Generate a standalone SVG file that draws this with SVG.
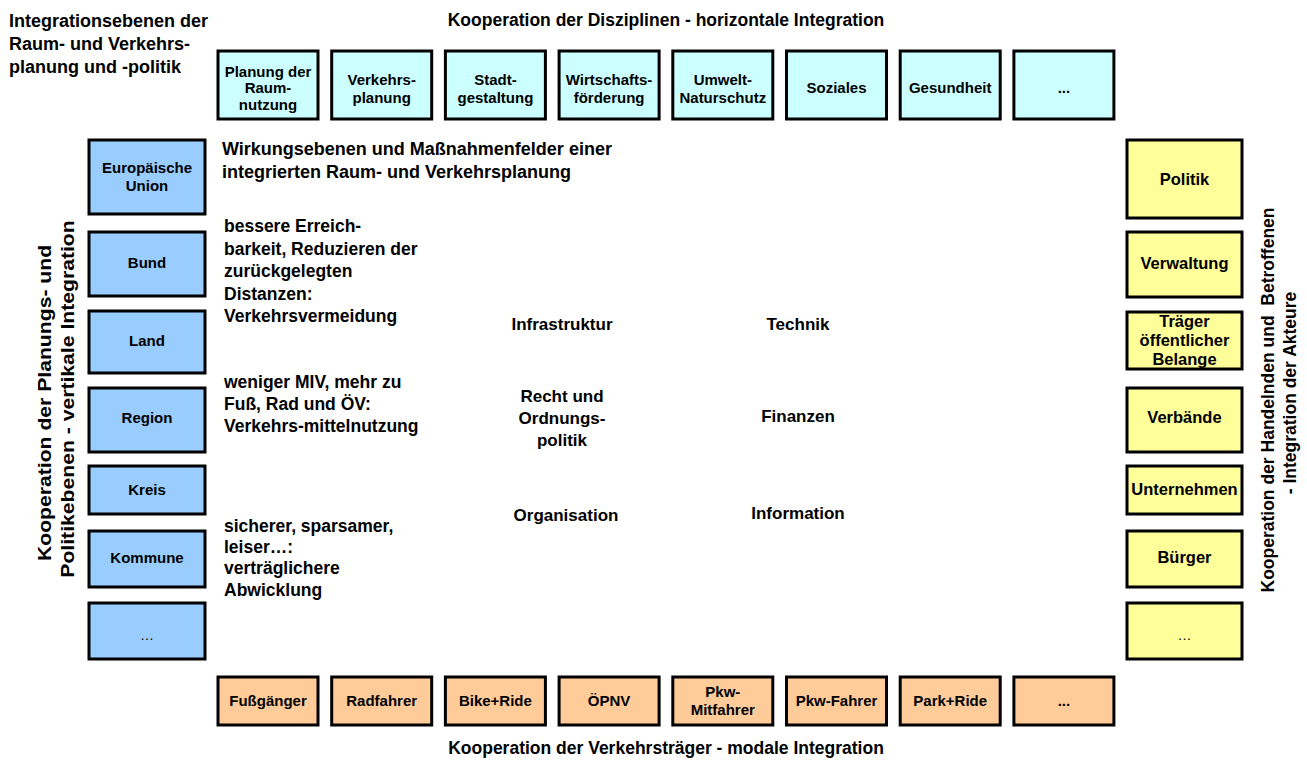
<svg xmlns="http://www.w3.org/2000/svg" width="1307" height="765" viewBox="0 0 1307 765">
<style>
text{font-family:"Liberation Sans",Arial,sans-serif;font-weight:bold;fill:#000}
.box{stroke:#000;stroke-width:3}
.top{fill:#CCFFFF}
.lft{fill:#99CCFF}
.rgt{fill:#FFFF99}
.bot{fill:#FFCC99}
.bt{font-size:15px;text-anchor:middle}
.rt{font-size:16.5px;text-anchor:middle}
.dots{font-weight:normal;font-size:14px;text-anchor:middle}
.ttl{font-size:17.5px;text-anchor:middle}
.hd{font-size:18px}
.body{font-size:17.5px}
.ctr{font-size:17px;text-anchor:middle}
</style>
<rect width="1307" height="765" fill="#fff"/>
<g id="labels">
<text class="ttl" x="666" y="26">Kooperation der Disziplinen - horizontale Integration</text>
<text class="ttl" x="666" y="754">Kooperation der Verkehrsträger - modale Integration</text>
<text class="hd" x="9" y="27">Integrationsebenen der</text>
<text class="hd" x="9" y="50">Raum- und Verkehrs-</text>
<text class="hd" x="9" y="73">planung und -politik</text>
<text class="ttl" transform="translate(51,403) rotate(-90) scale(1.21,1)" x="0" y="0">Kooperation der Planungs- und</text>
<text class="ttl" transform="translate(74,399) rotate(-90) scale(1.21,1)" x="0" y="0">Politikebenen - vertikale Integration</text>
<text class="ttl" transform="translate(1274,400) rotate(-90)" x="0" y="0" xml:space="preserve">Kooperation der Handelnden und  Betroffenen</text>
<text class="ttl" transform="translate(1296,393) rotate(-90)" x="0" y="0">- Integration der Akteure</text>
<text class="hd" x="222" y="155">Wirkungsebenen und Maßnahmenfelder einer</text>
<text class="hd" x="222" y="178">integrierten Raum- und Verkehrsplanung</text>
<text class="body" x="224" y="232">bessere Erreich-</text>
<text class="body" x="224" y="254.5">barkeit, Reduzieren der</text>
<text class="body" x="224" y="277">zurückgelegten</text>
<text class="body" x="224" y="299.5">Distanzen:</text>
<text class="body" x="224" y="322">Verkehrsvermeidung</text>
<text class="body" x="224" y="388">weniger MIV, mehr zu</text>
<text class="body" x="224" y="410">Fuß, Rad und ÖV:</text>
<text class="body" x="224" y="432">Verkehrs-mittelnutzung</text>
<text class="body" x="224" y="532">sicherer, sparsamer,</text>
<text class="body" x="224" y="553">leiser…:</text>
<text class="body" x="224" y="574">verträglichere</text>
<text class="body" x="224" y="596">Abwicklung</text>
<text class="ctr" x="562" y="330">Infrastruktur</text>
<text class="ctr" x="798" y="330">Technik</text>
<text class="ctr" x="562" y="402">Recht und</text>
<text class="ctr" x="562" y="424">Ordnungs-</text>
<text class="ctr" x="562" y="446">politik</text>
<text class="ctr" x="798" y="422">Finanzen</text>
<text class="ctr" x="566" y="521">Organisation</text>
<text class="ctr" x="798" y="519">Information</text>
</g>
<g id="connectors"></g>
<g id="t1"><rect class="box top" x="218" y="51" width="100" height="68"/><text class="bt" x="268" y="77">Planung der</text><text class="bt" x="268" y="93">Raum-</text><text class="bt" x="268" y="110">nutzung</text></g>
<g id="t2"><rect class="box top" x="331.7" y="51" width="100" height="68"/><text class="bt" x="381.7" y="85">Verkehrs-</text><text class="bt" x="381.7" y="103">planung</text></g>
<g id="t3"><rect class="box top" x="445.4" y="51" width="100" height="68"/><text class="bt" x="495.4" y="85">Stadt-</text><text class="bt" x="495.4" y="103">gestaltung</text></g>
<g id="t4"><rect class="box top" x="559.1" y="51" width="100" height="68"/><text class="bt" x="609.1" y="85">Wirtschafts-</text><text class="bt" x="609.1" y="103">förderung</text></g>
<g id="t5"><rect class="box top" x="672.8" y="51" width="100" height="68"/><text class="bt" x="722.8" y="85">Umwelt-</text><text class="bt" x="722.8" y="103">Naturschutz</text></g>
<g id="t6"><rect class="box top" x="786.5" y="51" width="100" height="68"/><text class="bt" x="836.5" y="93">Soziales</text></g>
<g id="t7"><rect class="box top" x="900.2" y="51" width="100" height="68"/><text class="bt" x="950.2" y="93">Gesundheit</text></g>
<g id="t8"><rect class="box top" x="1013.9" y="51" width="100" height="68"/><text class="bt" x="1063.9" y="93">...</text></g>
<g id="l1"><rect class="box lft" x="89" y="140" width="116" height="74"/><text class="bt" x="147" y="173">Europäische</text><text class="bt" x="147" y="191">Union</text></g>
<g id="l2"><rect class="box lft" x="89" y="232" width="116" height="64"/><text class="bt" x="147" y="268">Bund</text></g>
<g id="l3"><rect class="box lft" x="89" y="311" width="116" height="62"/><text class="bt" x="147" y="346">Land</text></g>
<g id="l4"><rect class="box lft" x="89" y="388" width="116" height="64"/><text class="bt" x="147" y="423">Region</text></g>
<g id="l5"><rect class="box lft" x="89" y="466" width="116" height="48"/><text class="bt" x="147" y="495">Kreis</text></g>
<g id="l6"><rect class="box lft" x="89" y="531" width="116" height="56"/><text class="bt" x="147" y="563">Kommune</text></g>
<g id="l7"><rect class="box lft" x="89" y="603" width="116" height="56"/><text class="dots" x="147" y="640">…</text></g>
<g id="r1"><rect class="box rgt" x="1127" y="140" width="115" height="78"/><text class="rt" x="1184.5" y="185">Politik</text></g>
<g id="r2"><rect class="box rgt" x="1127" y="232" width="115" height="65"/><text class="rt" x="1184.5" y="269">Verwaltung</text></g>
<g id="r3"><rect class="box rgt" x="1127" y="312" width="115" height="57"/><text class="rt" x="1184.5" y="327">Träger</text><text class="rt" x="1184.5" y="346">öffentlicher</text><text class="rt" x="1184.5" y="365">Belange</text></g>
<g id="r4"><rect class="box rgt" x="1127" y="388" width="115" height="64"/><text class="rt" x="1184.5" y="423">Verbände</text></g>
<g id="r5"><rect class="box rgt" x="1127" y="466" width="115" height="48"/><text class="rt" x="1184.5" y="495">Unternehmen</text></g>
<g id="r6"><rect class="box rgt" x="1127" y="531" width="115" height="56"/><text class="rt" x="1184.5" y="563">Bürger</text></g>
<g id="r7"><rect class="box rgt" x="1127" y="603" width="115" height="56"/><text class="dots" x="1184.5" y="640">…</text></g>
<g id="b1"><rect class="box bot" x="218" y="677" width="100" height="48"/><text class="bt" x="268" y="706">Fußgänger</text></g>
<g id="b2"><rect class="box bot" x="331.7" y="677" width="100" height="48"/><text class="bt" x="381.7" y="706">Radfahrer</text></g>
<g id="b3"><rect class="box bot" x="445.4" y="677" width="100" height="48"/><text class="bt" x="495.4" y="706">Bike+Ride</text></g>
<g id="b4"><rect class="box bot" x="559.1" y="677" width="100" height="48"/><text class="bt" x="609.1" y="706">ÖPNV</text></g>
<g id="b5"><rect class="box bot" x="672.8" y="677" width="100" height="48"/><text class="bt" x="722.8" y="697">Pkw-</text><text class="bt" x="722.8" y="715">Mitfahrer</text></g>
<g id="b6"><rect class="box bot" x="786.5" y="677" width="100" height="48"/><text class="bt" x="836.5" y="706">Pkw-Fahrer</text></g>
<g id="b7"><rect class="box bot" x="900.2" y="677" width="100" height="48"/><text class="bt" x="950.2" y="706">Park+Ride</text></g>
<g id="b8"><rect class="box bot" x="1013.9" y="677" width="100" height="48"/><text class="bt" x="1063.9" y="706">...</text></g>
</svg>
